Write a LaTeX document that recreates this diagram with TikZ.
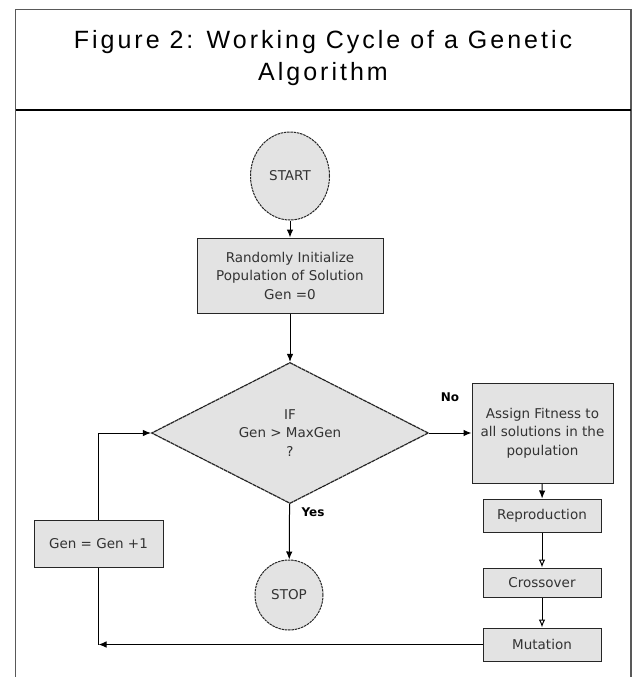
\documentclass[tikz,border=0pt]{standalone}
\usepackage{fontspec}
\setmainfont{DejaVu Sans}
\newfontfamily\titlefont[LetterSpace=12]{Liberation Sans}
\usetikzlibrary{arrows.meta,shapes.geometric}

\tikzset{
  frameline/.style={line width=1.5pt, color=black!65},
  flowbox/.style={draw=black!85, fill=black!11, line width=1pt, align=center, inner sep=1pt,
    text=black!80, font=\fontsize{13.5}{18.5}\selectfont},
  stepbox/.style={flowbox, minimum width=118pt},
  terminal/.style={flowbox, ellipse, dash pattern=on 2.5pt off 0.8pt},
  decision/.style={flowbox, diamond, aspect=2, inner sep=0pt, line width=1.2pt,
    dash pattern=on 4pt off 0.6pt, minimum width=277pt, minimum height=141pt},
  answer/.style={font=\bfseries\fontsize{12}{14}\selectfont, inner sep=0pt},
  arr/.style={line width=1pt, -{Latex[length=8pt,width=6.5pt]}},
  openarr/.style={line width=1pt, -{Latex[open,length=8pt,width=6.5pt,fill=white]}}
}

\begin{document}
\begin{tikzpicture}[x=1pt,y=-1pt]
		%%%%% START %%%%%
		\useasboundingbox (0,0) rectangle (633,677);

		% frame and caption
		\draw[frameline] (15.5,677) -- (15.5,9.5) -- (631,9.5) -- (631,677);
		\draw[line width=2.5pt] (15.5,110) -- (631,110);
		\node[align=center, font=\titlefont\fontsize{25}{32}\selectfont] (title) at (323,58)
			{Figure 2: Working Cycle of a Genetic\\Algorithm};

		% main column
		\node[terminal, minimum width=79pt, minimum height=88pt] (start) at (290,176) {START};
		\node[flowbox, minimum width=186pt, minimum height=75pt] (init) at (290,275.5)
			{Randomly Initialize\\Population of Solution\\Gen =0};
		\node[decision] (cond) at (290,433) {IF\\Gen > MaxGen\\?};
		\node[terminal, minimum width=68pt, minimum height=70pt] (stop) at (289,595) {STOP};

		% right column
		\node[flowbox, minimum width=141pt, minimum height=100pt] (fit) at (542.5,433)
			{Assign Fitness to\\all solutions in the\\population};
		\node[stepbox, minimum height=33pt] (repro) at (542,515.5) {Reproduction};
		\node[stepbox, minimum height=29pt] (cross) at (542,582.5) {Crossover};
		\node[stepbox, minimum height=33pt] (mut) at (542,644.5) {Mutation};

		% loop back
		\node[flowbox, minimum width=129pt, minimum height=47pt] (incr) at (98.5,543.5) {Gen = Gen +1};

		\node[answer] (no) at (450,397) {No};
		\node[answer] (yes) at (313,512) {Yes};

		\draw[arr] (start) -- (init);
		\draw[arr] (init) -- (cond);
		\draw[arr] (cond) -- (stop);
		\draw[arr] (cond) -- (fit);
		\draw[arr] (fit) -- (repro);
		\draw[openarr] (repro) -- (cross);
		\draw[openarr] (cross) -- (mut);

		\coordinate (back) at (incr.south |- mut.west);
		\draw[arr] (mut) -- (back);
		\draw[line width=1pt] (back) -- (incr);
		\draw[arr] (incr.north) |- (cond.west);

		%%%%% END %%%%%
\end{tikzpicture}
\end{document}
